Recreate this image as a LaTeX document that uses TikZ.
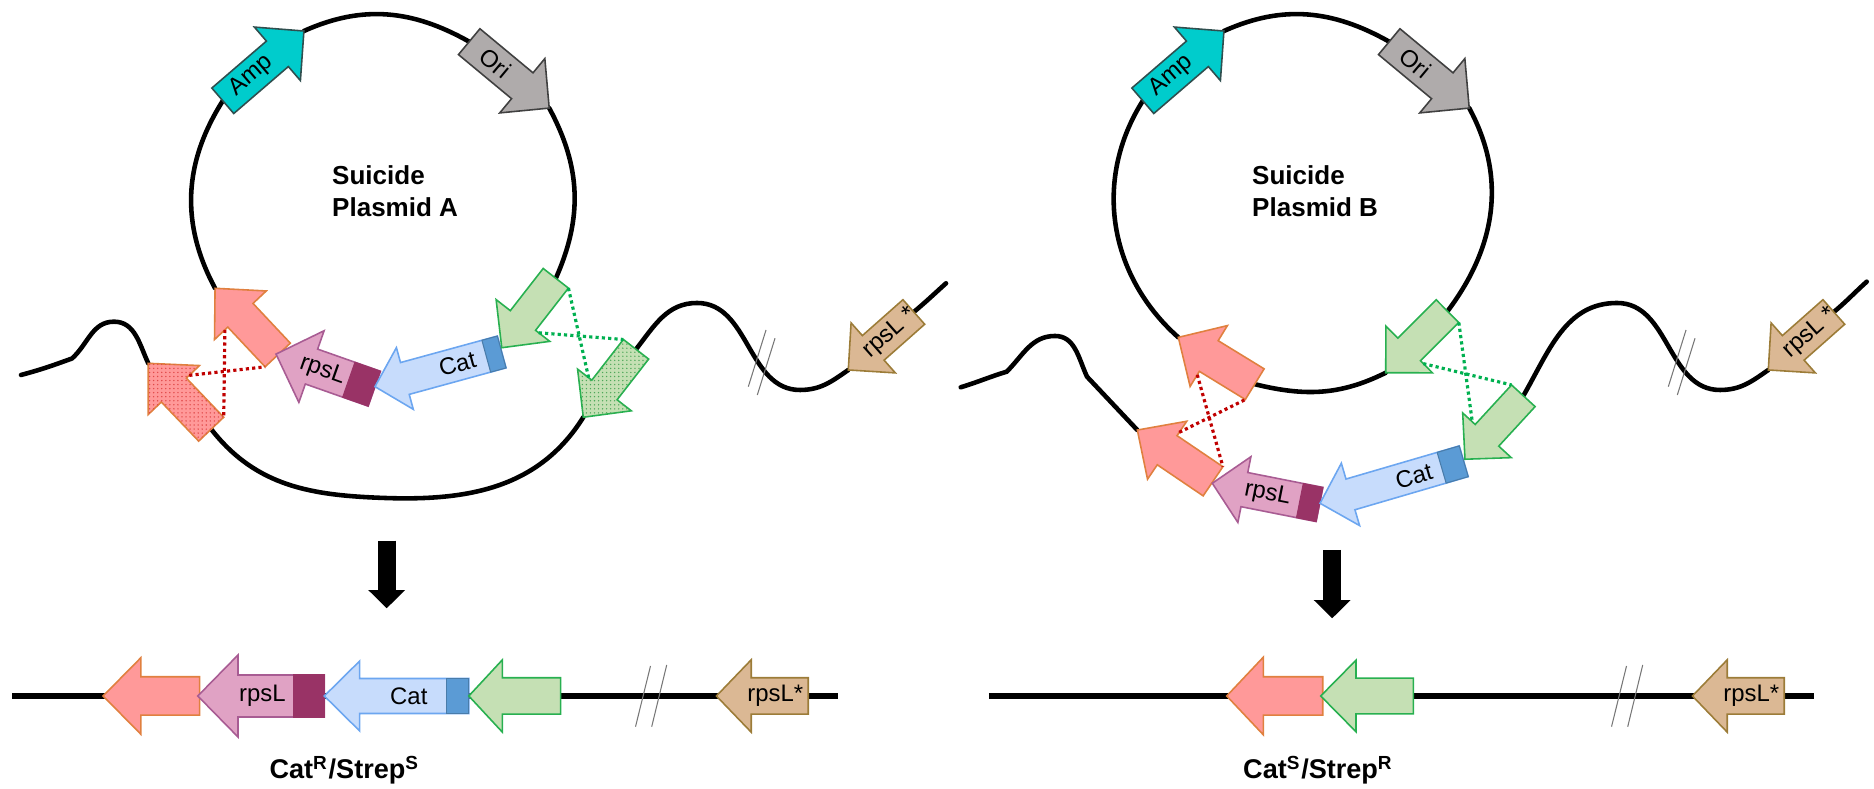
\documentclass[tikz,border=0pt]{standalone}
\usepackage{fontspec}
\setmainfont{Liberation Sans}
\usetikzlibrary{arrows.meta,patterns.meta}
\pgfdeclarelayer{bg}
\pgfsetlayers{bg,main}

\definecolor{redfill}{HTML}{FF9999}
\definecolor{redline}{HTML}{E0803F}
\definecolor{reddots}{HTML}{E04848}
\definecolor{pinkfill}{HTML}{E0A2C4}
\definecolor{pinkline}{HTML}{A85C93}
\definecolor{pinkdark}{HTML}{993366}
\definecolor{catfill}{HTML}{C7DCFC}
\definecolor{catline}{HTML}{6CA6F0}
\definecolor{catdark}{HTML}{5B9BD5}
\definecolor{grnfill}{HTML}{C5E0B4}
\definecolor{grnline}{HTML}{28B050}
\definecolor{grndots}{HTML}{4FA85A}
\definecolor{ampfill}{HTML}{00CCCC}
\definecolor{ampline}{HTML}{2F4F4F}
\definecolor{orifill}{HTML}{AFABAB}
\definecolor{oriline}{HTML}{404040}
\definecolor{tanfill}{HTML}{DBB894}
\definecolor{tanline}{HTML}{9C7C38}
\definecolor{xred}{HTML}{C00000}
\definecolor{xgreen}{HTML}{00B050}
\definecolor{breakgrey}{HTML}{777777}

\tikzset{
  gene/.style={line width=0.45pt, line join=miter},
  redgene/.style={gene, fill=redfill, draw=redline},
  pinkgene/.style={gene, fill=pinkfill, draw=pinkline},
  catgene/.style={gene, fill=catfill, draw=catline},
  grngene/.style={gene, fill=grnfill, draw=grnline},
  ampgene/.style={gene, fill=ampfill, draw=ampline},
  origene/.style={gene, fill=orifill, draw=oriline},
  tangene/.style={gene, fill=tanfill, draw=tanline},
  dotfill/.style={postaction={pattern={Dots[distance=1.15pt,radius=0.22pt]}, pattern color=#1}},
  pinkblock/.style={fill=pinkdark, draw=pinkdark, line width=0.3pt},
  catblock/.style={fill=catdark, draw=catdark!80!black, line width=0.3pt},
  chrom/.style={line width=1.3pt, line cap=round},
  dnaline/.style={line width=1.5pt},
  xover/.style={line width=0.9pt, dash pattern=on 0.9pt off 0.9pt},
  breakmark/.style={line width=0.3pt, draw=breakgrey},
  genelabel/.style={font=\fontsize{6.8}{8}\selectfont, inner sep=0pt},
  plasmidname/.style={font=\bfseries\fontsize{7.4}{9}\selectfont, inner sep=0pt, anchor=base west},
  phenotype/.style={font=\bfseries\fontsize{7.7}{9}\selectfont, inner sep=0pt, anchor=base},
  bigarrow/.style={line width=5.1pt, -{Triangle[width=10.2pt,length=5.2pt]}},
}

% gene arrow: name, tail point, direction, length, shaft half width,
% head half width, head length, style, extra content in local coordinates
\newcommand\gene[9]{%
  \begin{scope}[shift={(#2)}, rotate=#3]
    \path[#8] (0,-#5) -- ({#4-#7},-#5) -- ({#4-#7},-#6) -- (#4,0)
      -- ({#4-#7},#6) -- ({#4-#7},#5) -- (0,#5) -- cycle;
    \coordinate (#1-tail) at (0,0);
    \coordinate (#1-tip) at (#4,0);
    \coordinate (#1-tl) at (0,#5);
    \coordinate (#1-tr) at (0,-#5);
    \coordinate (#1-il) at ({#4-#7},{#5+4});
    \coordinate (#1-ir) at ({#4-#7},{-#5-4});
    #9
  \end{scope}}

\begin{document}
\begin{tikzpicture}[x=0.01cm, y=0.01cm]
\useasboundingbox (0,0) rectangle (1874,789);

% ================= Suicide plasmid A integrated =================
\gene{ampA}{222.8,688.2}{40.7}{107}{16.8}{35.3}{35}{ampgene}
  {\node[genelabel, rotate=40.7] (ampA-lab) at (38,0) {Amp};}
\gene{oriA}{469.2,747.3}{-39.7}{104}{16.8}{35.3}{35}{origene}
  {\node[genelabel, rotate=-39.7] (oriA-lab) at (34,0) {Ori};}
\gene{redUA}{277.7,434}{133.2}{91.5}{17.3}{35.5}{37}{redgene}{}
\gene{redLA}{211.2,359.8}{133.7}{91.1}{17.3}{35.5}{37}{redgene, dotfill=reddots}{}
\gene{rpsLA}{374.3,400.3}{160.6}{104.2}{18.5}{38}{37.6}{pinkgene}
  {\path[pinkblock] (0,-18.5) rectangle (27,18.5);
   \node[genelabel, rotate=-19.4] (rpsLA-lab) at (55,0) {rpsL};}
\gene{catA}{501.7,437}{195.3}{131.4}{16.5}{32}{31}{catgene}
  {\path[catblock] (0,-16.5) rectangle (16,16.5);
   \node[genelabel, rotate=15.3] (catA-lab) at (46,0) {Cat};}
\gene{grnUA}{555.8,510.7}{232.1}{88}{16}{34}{34.5}{grngene}{}
\gene{grnLA}{636,439.7}{232.2}{86}{16}{34}{34.5}{grngene, dotfill=grndots}{}
\gene{rpslsA}{913.8,477}{221.5}{87.5}{16.4}{33.4}{33.3}{tangene}
  {\node[genelabel, rotate=41.5] (rpslsA-lab) at (32,0) {rpsL *};}

\node[plasmidname] (nameA1) at (331.5,604) {Suicide};
\node[plasmidname] (nameA2) at (331.5,572.3) {Plasmid A};

% ================= Suicide plasmid B integrated =================
\gene{ampB}{1142.8,688.2}{40.7}{107}{16.8}{35.3}{35}{ampgene}
  {\node[genelabel, rotate=40.7] (ampB-lab) at (38,0) {Amp};}
\gene{oriB}{1389.2,747.3}{-39.7}{104}{16.8}{35.3}{35}{origene}
  {\node[genelabel, rotate=-39.7] (oriB-lab) at (34,0) {Ori};}
\gene{redUB}{1254.7,404.8}{148.5}{89.6}{18}{35.7}{35.7}{redgene}{}
\gene{redLB}{1213,307.7}{145.9}{91.4}{17.6}{35}{36}{redgene}{}
\gene{rpsLB}{1319.5,284.5}{168.8}{109.3}{17.4}{33.5}{32.7}{pinkgene}
  {\path[pinkblock] (0,-17.4) rectangle (20,17.4);
   \node[genelabel, rotate=-11.2] (rpsLB-lab) at (53,0) {rpsL};}
\gene{catB}{1463.7,327.7}{196.3}{149.7}{16}{32.5}{31.7}{catgene}
  {\path[catblock] (0,-16) rectangle (23,16);
   \node[genelabel, rotate=16.3] (catB-lab) at (52,0) {Cat};}
\gene{grnUB}{1447.5,477.8}{224.9}{87.2}{16}{33}{33}{grngene}{}
\gene{grnLB}{1523.3,393.2}{227.4}{86.2}{16}{33}{32.5}{grngene}{}
\gene{rpslsB}{1833.8,477}{221.5}{87.5}{16.4}{33.4}{33.3}{tangene}
  {\node[genelabel, rotate=41.5] (rpslsB-lab) at (32,0) {rpsL *};}

\node[plasmidname] (nameB1) at (1251.5,604) {Suicide};
\node[plasmidname] (nameB2) at (1251.5,572.3) {Plasmid B};

% ================= resulting chromosomes =================
\gene{redA}{199.6,93}{180}{96.5}{19.2}{38.3}{37.8}{redgene}{}
\gene{rpsLA2}{324.3,93}{180}{126.5}{21}{41}{40.2}{pinkgene}
  {\path[pinkblock] (0,-21) rectangle (30.5,21);
   \node[genelabel] (rpsLA2-lab) at (62,0) {rpsL};}
\gene{catA2}{468.8,93}{180}{144.5}{17.5}{35}{35.4}{catgene}
  {\path[catblock] (0,-17.5) rectangle (22.2,17.5);
   \node[genelabel] (catA2-lab) at (60,0) {Cat};}
\gene{grnA}{560.6,93}{180}{91.8}{18.2}{36.2}{33.6}{grngene}{}
\gene{rpslsA2}{808.2,93}{180}{91.8}{18.2}{36.2}{34.8}{tangene}
  {\node[genelabel] (rpslsA2-lab) at (33,0) {rpsL*};}

\gene{redB}{1322.7,93}{180}{96}{19.2}{38.8}{36.6}{redgene}{}
\gene{grnB}{1413.3,93}{180}{92.6}{17.8}{35.8}{35.3}{grngene}{}
\gene{rpslsB2}{1784.2,93}{180}{91.8}{18.2}{36.2}{34.8}{tangene}
  {\node[genelabel] (rpslsB2-lab) at (33,0) {rpsL*};}

\node[phenotype] (phenA) at (344.7,10) {Cat\textsuperscript{R}/Strep\textsuperscript{S}};
\node[phenotype] (phenB) at (1318.3,10) {Cat\textsuperscript{S}/Strep\textsuperscript{R}};

% ---- free ends and bends of the DNA strands
\coordinate (chrA-start) at (21,414);
\coordinate (chrA-kink) at (72,430.5);
\coordinate (chrA-peak) at (114,467.3);
\coordinate (loopA) at (385,291);
\coordinate (chrA-peak2) at (697,486);
\coordinate (chrA-trough) at (800,399);
\coordinate (chrA-end) at (946,505.7);

\coordinate (chrB-start) at (960.7,401.7);
\coordinate (chrB-kink) at (1006.7,417.3);
\coordinate (chrB-peak) at (1055,453);
\coordinate (chrB-kink2) at (1087,412.3);
\coordinate (chrB-peak2) at (1617,486);
\coordinate (chrB-trough) at (1720,399);
\coordinate (chrB-end) at (1866.7,507.3);

\coordinate (lineA-l) at (12,93);
\coordinate (lineA-r) at (838.1,93);
\coordinate (lineB-l) at (988.8,93);
\coordinate (lineB-r) at (1814.3,93);

\coordinate (arrA-top) at (386.7,248.3);
\coordinate (arrA-tip) at (386.7,180.7);
\coordinate (arrB-top) at (1332.2,239);
\coordinate (arrB-tip) at (1332.2,170.7);

\begin{pgfonlayer}{bg}
  % plasmid backbones
  \draw[chrom] (grnUA-tail) to[out=66,in=-61.6] (oriA-tip);
  \draw[chrom] (oriA-tail) to[out=150.6,in=24.2] (ampA-tip);
  \draw[chrom] (ampA-tail) to[out=237.7,in=118.2] (redUA-tip);
  \draw[chrom] (grnUB-tail) to[out=53,in=-61.6] (oriB-tip);
  \draw[chrom] (oriB-tail) to[out=150.6,in=24.2] (ampB-tip);
  \draw[chrom] (ampB-tail) to[out=237.7,in=138.4] (redUB-tip);
  \draw[chrom] (redUB-tail) to[out=-13.8,in=-153.6] (grnUB-tip);
  % chromosome A
  \draw[chrom] (chrA-start) to[out=15,in=200] (chrA-kink)
     to[out=42,in=180] (chrA-peak) to[out=0,in=115] (redLA-tip);
  \draw[chrom] (redLA-tail) to[out=-52,in=178] (loopA) to[out=-2,in=-122] (grnLA-tip);
  \draw[chrom] (grnLA-tail) to[out=52,in=180] (chrA-peak2)
     to[out=0,in=180] (chrA-trough) to[out=0,in=215] (rpslsA-tip);
  \draw[chrom] (rpslsA-tail) to[out=40,in=222] (chrA-end);
  % chromosome B
  \draw[chrom] (chrB-start) to[out=17,in=197] (chrB-kink)
     to[out=45,in=180] (chrB-peak) to[out=0,in=115] (chrB-kink2) -- (redLB-tip);
  \draw[chrom] (grnLB-tail) to[out=60,in=180] (chrB-peak2)
     to[out=0,in=180] (chrB-trough) to[out=0,in=215] (rpslsB-tip);
  \draw[chrom] (rpslsB-tail) to[out=40,in=222] (chrB-end);
  % resulting chromosomes
  \draw[dnaline] (lineA-l) -- (lineA-r);
  \draw[dnaline] (lineB-l) -- (lineB-r);
\end{pgfonlayer}

% ---- crossover lines
\draw[xover, xred] (redUA-il) -- (redLA-tr);
\draw[xover, xred] (redLA-ir) -- (redUA-tl);
\draw[xover, xgreen] (grnUA-tl) -- (grnLA-ir);
\draw[xover, xgreen] (grnUA-il) -- (grnLA-tr);
\draw[xover, xred] (redUB-il) -- (redLB-tr);
\draw[xover, xred] (redLB-ir) -- (redUB-tl);
\draw[xover, xgreen] (grnUB-tl) -- (grnLB-ir);
\draw[xover, xgreen] (grnUB-il) -- (grnLB-tr);

% ---- breaks in the chromosome
\draw[breakmark] (766,459) -- (748.3,402.3);
\draw[breakmark] (775,450.7) -- (757.3,394);
\draw[breakmark] (1686,459) -- (1668.3,402.3);
\draw[breakmark] (1695,450.7) -- (1677.3,394);
\draw[breakmark] (666.7,124) -- (651.7,62.3);
\draw[breakmark] (650.5,123) -- (635.5,62.3);
\draw[breakmark] (1642.7,124) -- (1627.7,62.3);
\draw[breakmark] (1626.5,123) -- (1611.5,62.3);

% ---- resolution arrows
\draw[bigarrow] (arrA-top) -- (arrA-tip);
\draw[bigarrow] (arrB-top) -- (arrB-tip);
\end{tikzpicture}
\end{document}
